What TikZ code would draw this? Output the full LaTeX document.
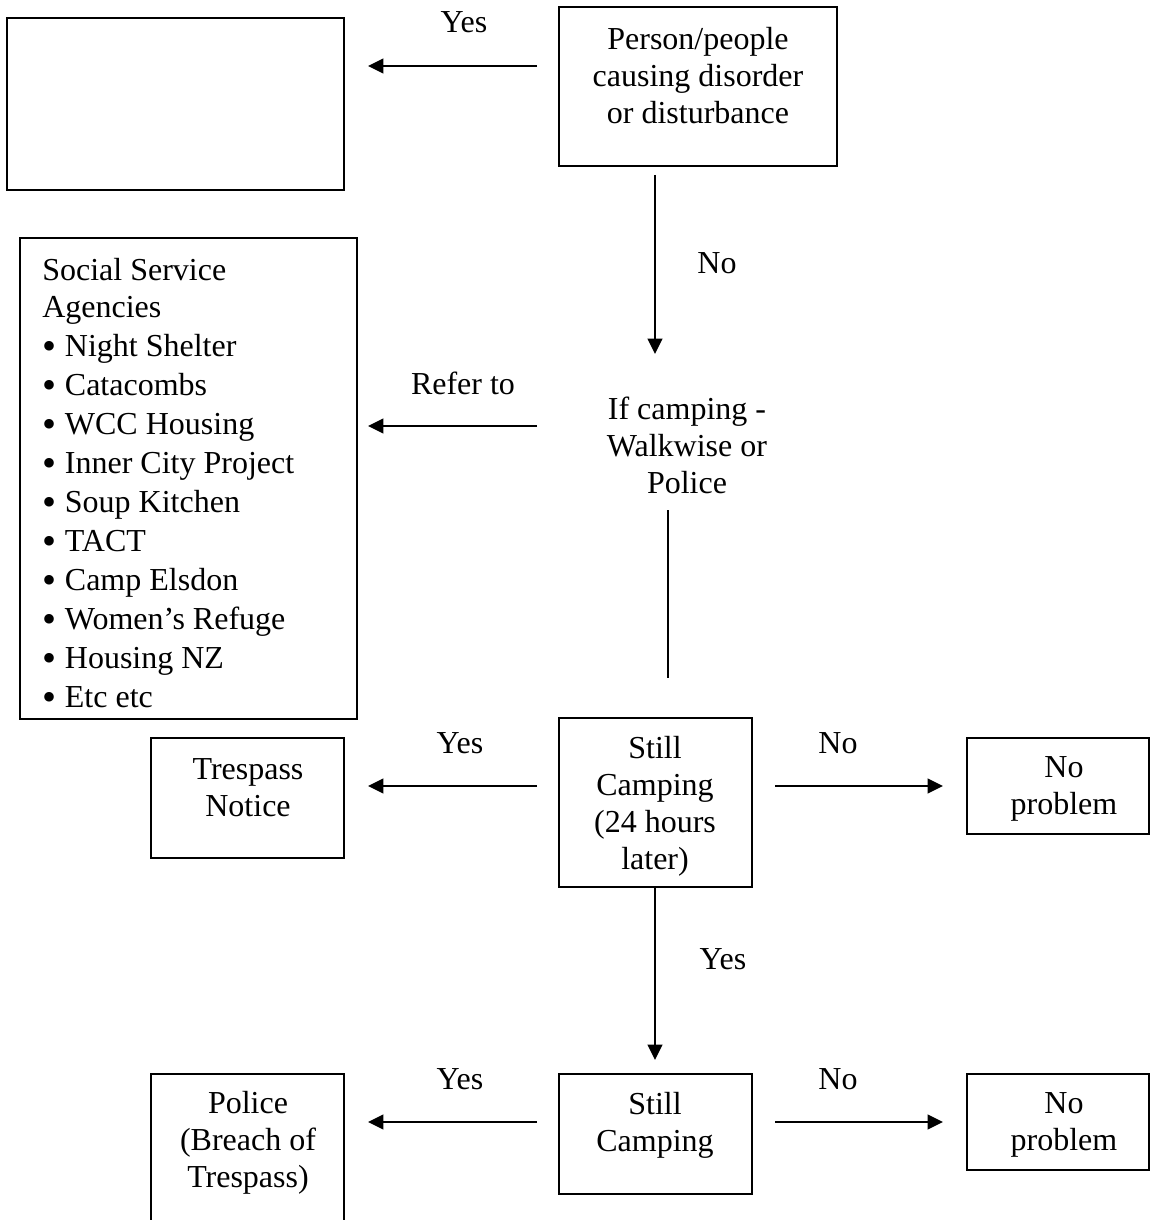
\documentclass[tikz,border=0pt]{standalone}
\usepackage{fontspec}
\setmainfont{Liberation Serif}
\usetikzlibrary{arrows.meta,fit}
\newcommand\mybul{\makebox[17pt][l]{\raisebox{-2.5pt}{\fontsize{30}{30}\selectfont•}}}
\begin{document}
\begin{tikzpicture}[x=0.75pt,y=-0.75pt,
  box/.style={draw, line width=1.5pt, inner sep=0pt},
  txt/.style={inner sep=0pt, align=center, font=\fontsize{24}{27.75}\selectfont},
  lbl/.style={inner sep=0pt, font=\fontsize{24}{27.75}\selectfont},
  arr/.style={line width=1.5pt, -{Triangle[length=11.5pt,width=11pt]}},
  ln/.style={line width=1.5pt}]
\useasboundingbox (0,0) rectangle (1150,1220);
\clip (0,0) rectangle (1150,1220);
% boxes
\node[box, fit={(7,18) (344,190)}] (A) {};
\node[box, fit={(559,7) (837,166)}] (B) {};
\node[box, fit={(20,238) (357,719)}] (S) {};
\node[box, fit={(559,718) (752,887)}] (C1) {};
\node[box, fit={(151,738) (344,858)}] (T) {};
\node[box, fit={(967,738) (1149,834)}] (N1) {};
\node[box, fit={(559,1074) (752,1194)}] (C2) {};
\node[box, fit={(151,1074) (344,1260)}] (P) {};
\node[box, fit={(967,1074) (1149,1170)}] (N2) {};
% texts
\node[txt] (Bt) at (698,76) {Person/people\\causing disorder\\or disturbance};
\node[txt] (K) at (687,445) {If camping -\\Walkwise or\\Police};
\node[inner sep=0pt, anchor=north west, align=left, font=\fontsize{24}{29.25}\selectfont] (St) at (42,258)
  {Social Service\\[-1.5pt]Agencies\\\mybul Night Shelter\\\mybul Catacombs\\\mybul WCC Housing\\\mybul Inner City Project\\\mybul Soup Kitchen\\\mybul TACT\\\mybul Camp Elsdon\\\mybul Women’s Refuge\\\mybul Housing NZ\\\mybul Etc etc};
\node[txt] (C1t) at (655,806) {Still\\Camping\\(24 hours\\later)};
\node[txt] (Tt) at (248,788) {Trespass\\Notice};
\node[txt] (N1t) at (1064,789) {No\\problem};
\node[txt] (C2t) at (655,1125) {Still\\Camping};
\node[txt] (Pt) at (248,1143) {Police\\(Breach of\\Trespass)};
\node[txt] (N2t) at (1064,1125) {No\\problem};
% labels
\node[lbl] (l1) at (464,22) {Yes};
\node[lbl] (l2) at (717,263) {No};
\node[lbl] (l3) at (463,383) {Refer to};
\node[lbl] (l4) at (460,743) {Yes};
\node[lbl] (l5) at (838,743) {No};
\node[lbl] (l6) at (723,959) {Yes};
\node[lbl] (l7) at (460,1079) {Yes};
\node[lbl] (l8) at (838,1079) {No};
% connector ends
\coordinate (a1s) at (537,66);   \coordinate (a1e) at (368,66);
\coordinate (a2s) at (655,175);  \coordinate (a2e) at (655,354);
\coordinate (a3s) at (537,426);  \coordinate (a3e) at (368,426);
\coordinate (a4s) at (668,510);  \coordinate (a4e) at (668,678);
\coordinate (a5s) at (537,786);  \coordinate (a5e) at (368,786);
\coordinate (a6s) at (775,786);  \coordinate (a6e) at (943,786);
\coordinate (a7s) at (655,887);  \coordinate (a7e) at (655,1060);
\coordinate (a8s) at (537,1122); \coordinate (a8e) at (368,1122);
\coordinate (a9s) at (775,1122); \coordinate (a9e) at (943,1122);
\draw[arr] (a1s) -- (a1e);
\draw[arr] (a2s) -- (a2e);
\draw[arr] (a3s) -- (a3e);
\draw[ln] (a4s) -- (a4e);
\draw[arr] (a5s) -- (a5e);
\draw[arr] (a6s) -- (a6e);
\draw[arr] (a7s) -- (a7e);
\draw[arr] (a8s) -- (a8e);
\draw[arr] (a9s) -- (a9e);
\end{tikzpicture}
\end{document}
